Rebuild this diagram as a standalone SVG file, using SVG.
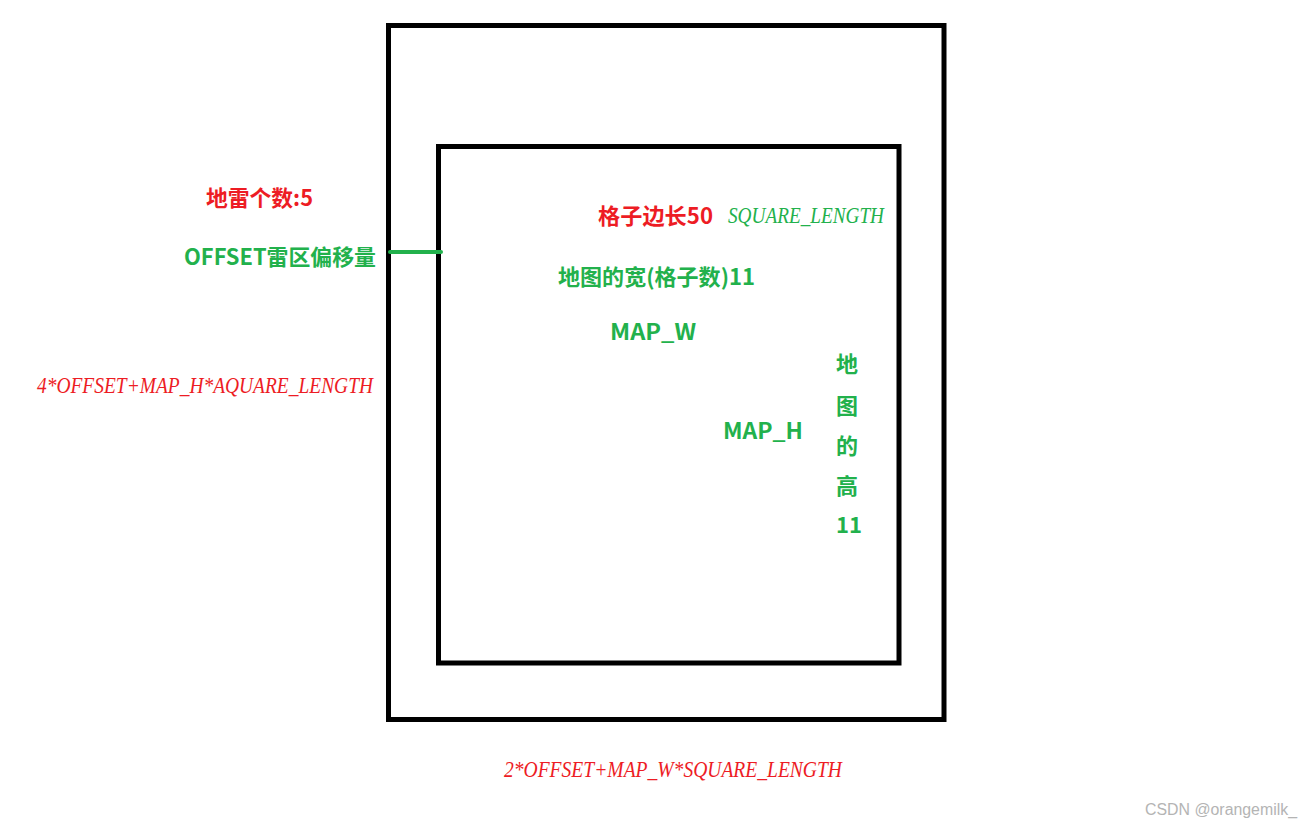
<svg xmlns="http://www.w3.org/2000/svg" width="1312" height="825" viewBox="0 0 1312 825">
<style>
.box{fill:none;stroke:#000;stroke-width:5}
.b{font-family:"Microsoft YaHei","Noto Sans CJK SC","Noto Sans",sans-serif;font-weight:bold;font-size:22px}
.red{fill:#ED1C24}
.green{fill:#22B14C}
.it{font-family:"Liberation Serif","Noto Serif",serif;font-style:italic;font-size:23px}
.wm{font-family:"Liberation Sans",Arial,sans-serif;font-size:16px;fill:#b4b4b4}
</style>
<rect width="1312" height="825" fill="#fff"/>
<g id="outer-box"><rect class="box" x="388.5" y="25.5" width="555.5" height="694"/></g>
<g id="inner-box"><rect class="box" x="438.5" y="146.5" width="460.5" height="516.5"/></g>
<g id="connectors"><line x1="390" y1="252" x2="441" y2="252" stroke="#22B14C" stroke-width="4" stroke-linecap="round"/></g>
<g id="labels">
<text class="b red" x="206" y="206" textLength="107" lengthAdjust="spacingAndGlyphs">地雷个数:5</text>
<text class="b green" x="184" y="265" textLength="192" lengthAdjust="spacingAndGlyphs">OFFSET雷区偏移量</text>
<text class="b red" x="598" y="224" textLength="115" lengthAdjust="spacingAndGlyphs">格子边长50</text>
<text class="it green" x="728" y="223" textLength="156" lengthAdjust="spacingAndGlyphs">SQUARE_LENGTH</text>
<text class="b green" x="558" y="285" textLength="197" lengthAdjust="spacingAndGlyphs">地图的宽(格子数)11</text>
<text class="b green" x="610" y="340" textLength="86" lengthAdjust="spacingAndGlyphs">MAP_W</text>
<text class="b green" x="723" y="439" textLength="80" lengthAdjust="spacingAndGlyphs">MAP_H</text>
<text class="b green" x="847" y="372" text-anchor="middle">地</text>
<text class="b green" x="847" y="414" text-anchor="middle">图</text>
<text class="b green" x="847" y="454" text-anchor="middle">的</text>
<text class="b green" x="847" y="494" text-anchor="middle">高</text>
<text class="b green" x="849" y="533" text-anchor="middle">11</text>
<text class="it red" x="37" y="393" textLength="336" lengthAdjust="spacingAndGlyphs">4*OFFSET+MAP_H*AQUARE_LENGTH</text>
<text class="it red" x="504" y="777" textLength="338" lengthAdjust="spacingAndGlyphs">2*OFFSET+MAP_W*SQUARE_LENGTH</text>
<text class="wm" x="1145" y="815" textLength="152" lengthAdjust="spacingAndGlyphs">CSDN @orangemilk_</text>
</g>
</svg>
